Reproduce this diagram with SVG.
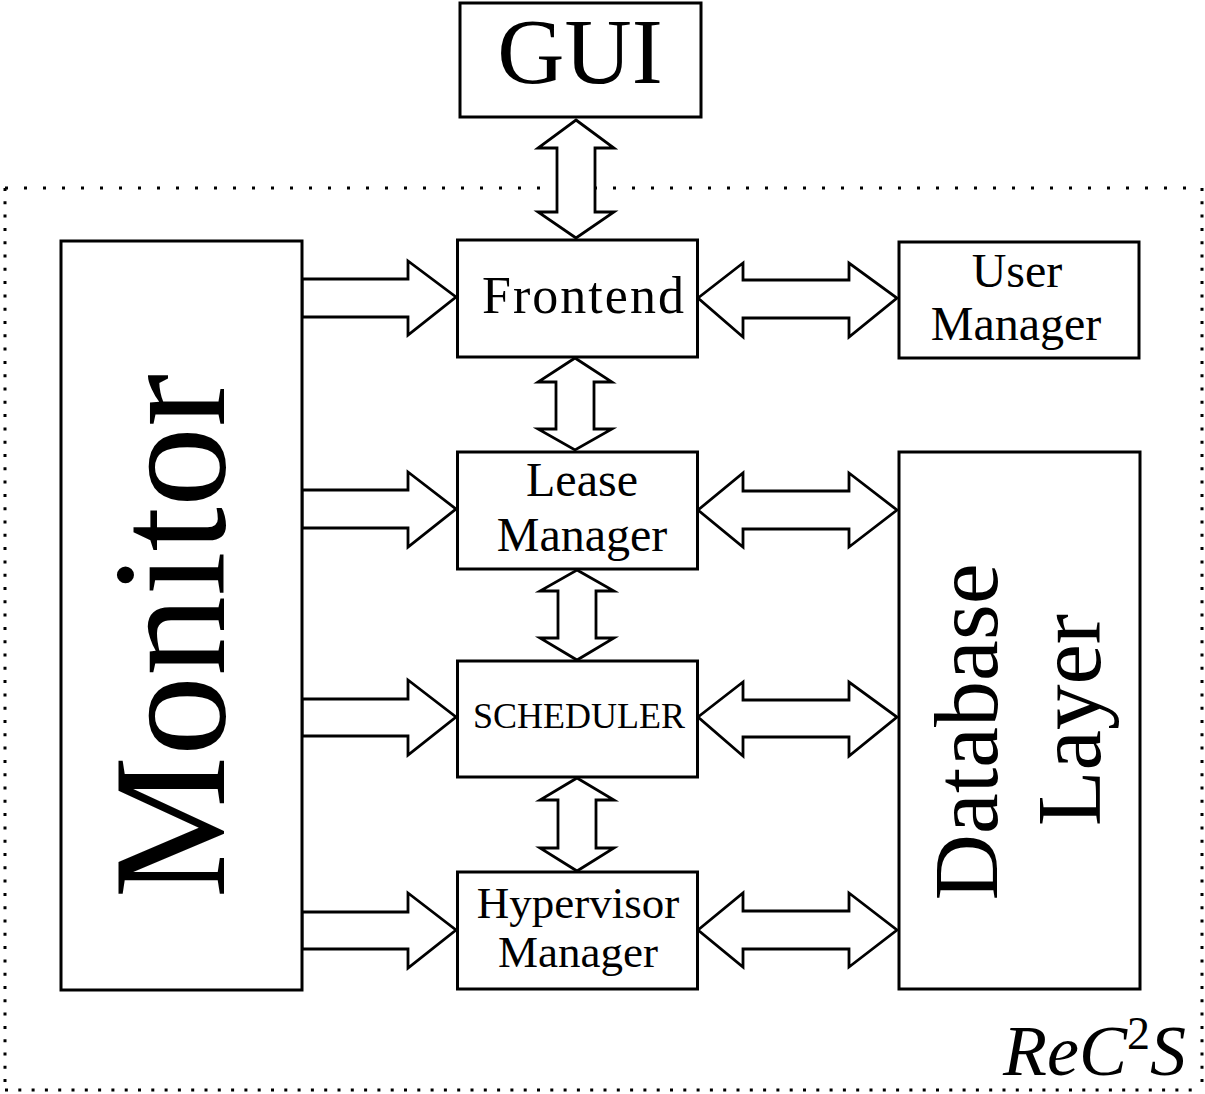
<svg xmlns="http://www.w3.org/2000/svg" width="1205" height="1094" viewBox="0 0 1205 1094">
<style>
.box{fill:#fff;stroke:#000;stroke-width:3}
.arr{fill:#fff;stroke:#000;stroke-width:2.8;stroke-linejoin:miter}
text{font-family:"Liberation Serif","Times New Roman",serif;fill:#000;text-anchor:middle}
text.start{text-anchor:start}
.dot{stroke:#000;stroke-width:3;fill:none}
</style>
<rect width="1205" height="1094" fill="#fff"/>
<g id="boundary">
<line class="dot" x1="5" y1="188" x2="1202" y2="188" stroke-dasharray="3 16"/>
<line class="dot" x1="5" y1="1090" x2="1202" y2="1090" stroke-dasharray="3 10.3"/>
<line class="dot" x1="5" y1="188" x2="5" y2="1090" stroke-dasharray="3 10.3"/>
<line class="dot" x1="1202" y1="188" x2="1202" y2="1090" stroke-dasharray="3 10.3"/>
<text class="start" x="1003" y="1075" font-size="72" font-style="italic">ReC<tspan font-size="46" dy="-26" font-style="normal">2</tspan><tspan dy="26">S</tspan></text>
</g>
<g id="connectors">
<polygon class="arr" points="576,120 614,148 595,148 595,212 614,212 576,238 538,212 557,212 557,148 538,148"/>
<polygon class="arr" points="575,358 612,382 594,382 594,429 612,429 575,450 538,429 556,429 556,382 538,382"/>
<polygon class="arr" points="577,570 614,591 596,591 596,638 614,638 577,660 540,638 558,638 558,591 540,591"/>
<polygon class="arr" points="577,778 614,800 596,800 596,848 614,848 577,871 540,848 558,848 558,800 540,800"/>
<polygon class="arr" points="302,279 408,279 408,261 456,297 408,335 408,317 302,317"/>
<polygon class="arr" points="302,490 408,490 408,472 456,509 408,547 408,528 302,528"/>
<polygon class="arr" points="302,699 408,699 408,680 456,717 408,755 408,736 302,736"/>
<polygon class="arr" points="302,912 408,912 408,893 456,930 408,968 408,949 302,949"/>
<polygon class="arr" points="698,298 743,263 743,280 849,280 849,263 897,298 849,337 849,318 743,318 743,337"/>
<polygon class="arr" points="698,510 743,473 743,491 849,491 849,473 897,510 849,547 849,529 743,529 743,547"/>
<polygon class="arr" points="698,717 743,682 743,700 849,700 849,682 897,717 849,756 849,737 743,737 743,756"/>
<polygon class="arr" points="698,930 743,893 743,911 849,911 849,893 897,930 849,967 849,949 743,949 743,967"/>
</g>
<g id="gui">
<rect class="box" x="460" y="3" width="241" height="114"/>
<text x="580" y="83" font-size="93">GUI</text>
</g>
<g id="frontend">
<rect class="box" x="457.5" y="240" width="240" height="117"/>
<text x="583" y="313" font-size="52" textLength="202" lengthAdjust="spacing">Frontend</text>
</g>
<g id="user-manager">
<rect class="box" x="899" y="242" width="240" height="116"/>
<text x="1017" y="287" font-size="48">User</text>
<text x="1016" y="340" font-size="48">Manager</text>
</g>
<g id="lease-manager">
<rect class="box" x="457.5" y="452" width="240" height="117"/>
<text x="582" y="496" font-size="48">Lease</text>
<text x="582" y="551" font-size="48">Manager</text>
</g>
<g id="scheduler">
<rect class="box" x="457.5" y="661" width="240" height="116"/>
<text x="579" y="728" font-size="36">SCHEDULER</text>
</g>
<g id="hypervisor-manager">
<rect class="box" x="457.5" y="872" width="240" height="117"/>
<text x="578" y="918" font-size="45">Hypervisor</text>
<text x="578" y="967" font-size="45">Manager</text>
</g>
<g id="database-layer">
<rect class="box" x="899" y="452" width="241" height="537"/>
<text transform="translate(997,732) rotate(-90)" font-size="92">Database</text>
<text transform="translate(1100,720) rotate(-90)" font-size="91">Layer</text>
</g>
<g id="monitor">
<rect class="box" x="61" y="241" width="241" height="749"/>
<text transform="translate(224,636) rotate(-90)" font-size="160">Monitor</text>
</g>
</svg>
